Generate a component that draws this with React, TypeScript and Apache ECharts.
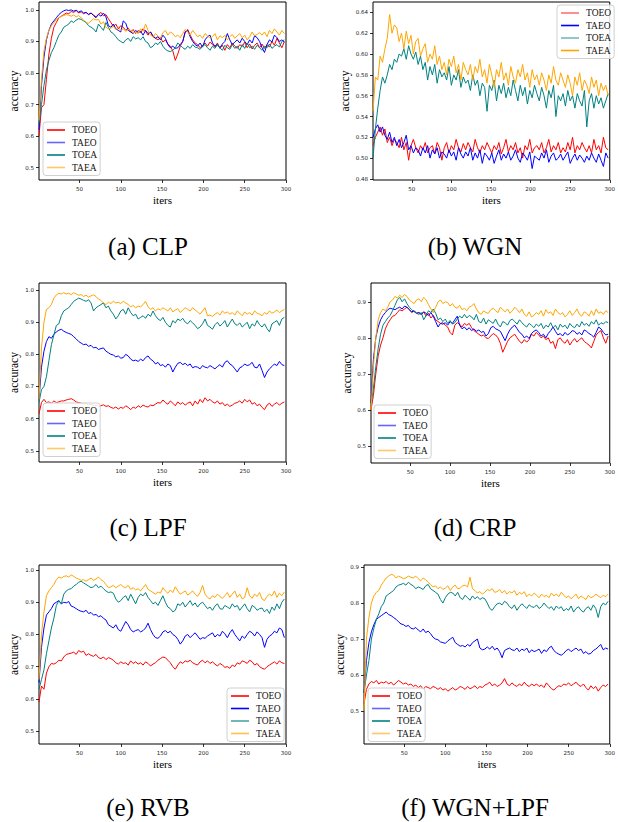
import React, { useEffect, useRef } from "react";
import * as echarts from "echarts";

const SERIES_NAMES = ["TOEO", "TAEO", "TOEA", "TAEA"];
const COLORS = ["#ff0000", "#0000ff", "#008080", "#ffa500"];
// iteration index of each stored sample (every 3rd iteration)
const ITERS = Array.from({ length: 100 }, (_, i) => 1 + 3 * i);
const X_TICKS = [50, 100, 150, 200, 250, 300];
const Y_TICKS_A = [0.5, 0.6, 0.7, 0.8, 0.9, 1.0];
const Y_TICKS_B = [0.48, 0.5, 0.52, 0.54, 0.56, 0.58, 0.6, 0.62, 0.64];
const Y_TICKS_C = [0.5, 0.6, 0.7, 0.8, 0.9, 1.0];
const Y_TICKS_D = [0.5, 0.6, 0.7, 0.8, 0.9];
const Y_TICKS_E = [0.5, 0.6, 0.7, 0.8, 0.9, 1.0];
const Y_TICKS_F = [0.5, 0.6, 0.7, 0.8, 0.9];
const CAPTIONS = ["(a) CLP", "(b) WGN", "(c) LPF", "(d) CRP", "(e) RVB", "(f) WGN+LPF"];

// accuracy x1000
const CLP_TOEO = [
  600, 690, 700, 780, 860, 910, 945, 960, 975, 980,
  985, 990, 988, 995, 992, 998, 990, 994, 988, 992,
  986, 990, 984, 978, 986, 992, 981, 985, 972, 960,
  948, 955, 940, 950, 945, 935, 942, 930, 938, 925,
  935, 928, 940, 932, 920, 930, 915, 910, 905, 912,
  898, 905, 892, 885, 870, 840, 860, 885, 900, 930,
  938, 920, 905, 895, 890, 880, 888, 895, 885, 898,
  890, 882, 895, 878, 888, 872, 890, 880, 895, 885,
  878, 890, 884, 898, 880, 892, 876, 888, 895, 880,
  892, 878, 890, 882, 900, 888, 910, 895, 880, 900,
];
const CLP_TAEO = [
  620, 760, 850, 905, 935, 955, 965, 975, 985, 992,
  997, 1000, 998, 1000, 996, 999, 993, 997, 990, 992,
  985, 990, 982, 975, 986, 980, 990, 978, 950, 945,
  955, 940, 935, 930, 965, 958, 935, 930, 925, 935,
  928, 932, 920, 935, 925, 930, 918, 910, 915, 905,
  920, 910, 890, 880, 885, 878, 880, 890, 900, 930,
  935, 915, 900, 890, 885, 895, 882, 905, 915, 920,
  895, 885, 890, 880, 892, 900, 925, 905, 890, 898,
  905, 895, 910, 900, 890, 905, 895, 918, 912, 900,
  880, 865, 890, 905, 898, 920, 912, 900, 905, 898,
];
const CLP_TOEA = [
  640, 700, 760, 810, 840, 865, 880, 900, 920, 930,
  945, 950, 955, 965, 960, 968, 972, 970, 965, 960,
  950, 945, 940, 930, 955, 945, 935, 960, 945, 930,
  925, 915, 905, 900, 895, 905, 910, 900, 915, 908,
  912, 905, 915, 900, 895, 880, 885, 895, 890, 900,
  885, 875, 870, 868, 872, 880, 895, 888, 880, 875,
  885, 878, 890, 882, 880, 875, 885, 890, 880, 872,
  885, 878, 890, 880, 872, 888, 880, 875, 890, 878,
  885, 872, 890, 878, 895, 880, 885, 875, 888, 880,
  872, 885, 880, 892, 878, 885, 890, 882, 900, 905,
];
const CLP_TAEA = [
  650, 780, 870, 910, 935, 950, 960, 970, 975, 980,
  982, 985, 983, 980, 984, 978, 982, 975, 968, 960,
  958, 965, 972, 968, 970, 955, 962, 945, 940, 942,
  948, 938, 945, 935, 940, 932, 938, 935, 928, 930,
  925, 940, 932, 955, 935, 920, 915, 925, 918, 910,
  928, 935, 920, 930, 925, 915, 920, 912, 925, 938,
  930, 920, 935, 925, 915, 920, 910, 925, 918, 910,
  915, 925, 905, 918, 912, 920, 905, 915, 922, 910,
  918, 925, 912, 920, 905, 915, 930, 918, 922, 928,
  920, 930, 915, 935, 925, 940, 930, 920, 935, 925,
];

const WGN_TOEO = [
  512, 520, 525, 530, 522, 528, 515, 520, 512, 518,
  515, 510, 520, 508, 515, 498, 512, 518, 510, 505,
  512, 508, 515, 505, 510, 512, 504, 515, 510, 498,
  510, 515, 505, 512, 508, 518, 510, 506, 514, 508,
  515, 510, 506, 518, 510, 505, 512, 508, 515, 510,
  505, 512, 508, 515, 504, 510, 518, 506, 512, 508,
  515, 505, 510, 500, 512, 508, 518, 505, 510, 512,
  508, 515, 505, 510, 518, 506, 512, 508, 515, 505,
  510, 506, 515, 508, 520, 505, 512, 508, 515, 510,
  506, 512, 505, 518, 508, 512, 505, 520, 510, 508,
];
const WGN_TAEO = [
  520, 528, 532, 525, 530, 522, 518, 525, 515, 520,
  512, 518, 510, 515, 522, 508, 512, 505, 510, 508,
  502, 510, 505, 512, 500, 508, 504, 510, 500, 506,
  504, 500, 508, 502, 506, 498, 510, 504, 500, 506,
  502, 510, 498, 505, 500, 508, 495, 505, 502, 498,
  505, 495, 502, 508, 498, 504, 500, 506, 498, 502,
  508, 500, 496, 505, 502, 498, 506, 490, 502, 500,
  498, 505, 500, 508, 496, 502, 505, 498, 500, 504,
  498, 502, 506, 495, 500, 504, 498, 503, 500, 496,
  502, 498, 505, 500, 496, 504, 498, 492, 505, 500,
];
const WGN_TOEA = [
  500, 528, 548, 565, 578, 572, 580, 590, 585, 595,
  592, 600, 598, 605, 595, 608, 600, 595, 602, 590,
  598, 585, 592, 575, 588, 580, 590, 572, 585, 578,
  582, 575, 588, 570, 580, 575, 585, 568, 578, 572,
  575, 565, 580, 570, 575, 560, 572, 568, 545, 570,
  565, 575, 555, 570, 562, 572, 558, 568, 560, 575,
  565, 555, 570, 560, 568, 552, 565, 558, 570, 562,
  555, 568, 560, 548, 565, 558, 570, 540, 560, 555,
  562, 550, 565, 555, 560, 548, 562, 555, 550, 565,
  530, 555, 562, 548, 560, 552, 558, 548, 555, 562,
];
const WGN_TAEA = [
  545, 578, 575, 598, 592, 605, 615, 638, 620, 628,
  625, 612, 620, 605, 622, 610, 618, 600, 612, 615,
  598, 605, 610, 592, 600, 595, 608, 590, 598, 585,
  592, 580, 595, 588, 598, 582, 590, 575, 592, 585,
  580, 590, 575, 588, 582, 595, 578, 585, 572, 590,
  580, 568, 585, 578, 592, 575, 582, 570, 588, 578,
  572, 585, 578, 590, 575, 582, 568, 585, 575, 580,
  570, 582, 575, 565, 580, 572, 588, 575, 570, 582,
  575, 568, 580, 572, 560, 578, 570, 582, 565, 575,
  570, 562, 578, 568, 575, 560, 572, 565, 570, 560,
];

const LPF_TOEO = [
  615, 650, 660, 650, 652, 648, 655, 650, 652, 655,
  655, 658, 660, 662, 658, 652, 650, 648, 645, 648,
  642, 645, 640, 642, 638, 640, 643, 638, 640, 635,
  632, 636, 630, 635, 632, 640, 635, 628, 636, 632,
  640, 635, 642, 638, 636, 642, 640, 645, 650, 648,
  658, 650, 645, 655, 648, 640, 652, 645, 650, 642,
  648, 652, 640, 655, 645, 660, 650, 665, 655, 660,
  652, 648, 655, 645, 650, 640, 645, 638, 642, 648,
  650, 655, 648, 660, 652, 658, 645, 650, 640, 645,
  635, 628, 642, 648, 638, 645, 650, 642, 648, 652,
];
const LPF_TAEO = [
  660, 760, 810, 840, 855, 850, 862, 870, 875, 878,
  872, 868, 865, 862, 855, 848, 840, 835, 830, 832,
  825, 828, 820, 822, 815, 818, 820, 810, 805, 800,
  798, 792, 795, 788, 790, 800, 795, 785, 780, 782,
  778, 785, 780, 790, 795, 785, 780, 770, 775, 765,
  768, 760, 770, 765, 745, 760, 772, 775, 768, 772,
  765, 770, 758, 762, 760, 755, 765, 760, 758, 765,
  760, 755, 762, 768, 760, 775, 780, 770, 765, 755,
  745, 758, 762, 770, 765, 768, 775, 760, 758, 770,
  750, 728, 745, 755, 762, 770, 765, 778, 768, 765,
];
const LPF_TOEA = [
  650, 690, 700, 730, 780, 830, 860, 890, 895, 920,
  935, 940, 945, 955, 965, 970, 975, 972, 968, 965,
  970, 960, 935, 945, 950, 955, 960, 945, 950, 935,
  925, 910, 920, 935, 940, 925, 945, 930, 920, 925,
  910, 915, 920, 912, 925, 918, 935, 920, 910, 905,
  915, 900, 890, 885, 905, 898, 910, 905, 912, 900,
  895, 905, 898, 890, 880, 885, 895, 910, 890, 885,
  878, 892, 900, 888, 895, 905, 885, 898, 910, 895,
  890, 898, 885, 892, 900, 880, 895, 888, 905, 892,
  885, 895, 880, 870, 895, 900, 905, 890, 910, 915,
];
const LPF_TAEA = [
  660, 820, 900, 940, 945, 955, 975, 985, 990, 988,
  992, 988, 990, 986, 992, 988, 984, 986, 980, 984,
  978, 982, 985, 980, 972, 968, 960, 955, 962, 958,
  965, 960, 962, 958, 965, 960, 955, 948, 952, 945,
  950, 948, 955, 965, 948, 940, 945, 935, 942, 938,
  945, 940, 935, 945, 932, 938, 942, 930, 938, 945,
  940, 935, 945, 938, 932, 925, 935, 945, 920, 922,
  918, 925, 930, 922, 935, 928, 932, 925, 930, 922,
  935, 928, 920, 932, 925, 930, 922, 935, 928, 925,
  920, 930, 925, 935, 928, 932, 938, 930, 935, 940,
];

const CRP_TOEO = [
  600, 640, 700, 750, 780, 800, 825, 840, 850, 860,
  862, 870, 878, 875, 880, 885, 878, 870, 875, 868,
  870, 865, 872, 860, 868, 855, 862, 850, 845, 840,
  842, 835, 830, 815, 808, 835, 842, 838, 830, 840,
  835, 840, 828, 820, 815, 810, 805, 808, 800, 798,
  805, 812, 808, 800, 785, 760, 775, 790, 800, 805,
  810, 800, 790, 785, 795, 788, 795, 810, 805, 815,
  808, 800, 805, 795, 800, 785, 790, 770, 795, 800,
  790, 785, 795, 780, 790, 798, 788, 795, 800, 790,
  785, 780, 772, 790, 808, 815, 820, 800, 785, 805,
];
const CRP_TAEO = [
  620, 740, 800, 830, 850, 862, 870, 878, 882, 880,
  878, 882, 885, 880, 888, 885, 878, 872, 875, 868,
  870, 865, 872, 868, 862, 870, 860, 845, 830, 840,
  838, 842, 835, 845, 840, 850, 860, 835, 825, 830,
  822, 828, 820, 825, 818, 822, 815, 818, 805, 812,
  828, 832, 825, 822, 818, 805, 792, 810, 822, 830,
  835, 825, 815, 810, 800, 805, 798, 812, 818, 822,
  815, 805, 810, 800, 812, 820, 830, 818, 808, 812,
  805, 815, 808, 812, 820, 818, 810, 815, 808, 822,
  818, 812, 808, 802, 815, 830, 825, 815, 808, 810,
];
const CRP_TOEA = [
  610, 660, 720, 770, 810, 835, 845, 855, 862, 875,
  890, 905, 912, 900, 908, 895, 885, 878, 872, 868,
  865, 870, 850, 862, 875, 870, 880, 868, 850, 855,
  845, 852, 840, 848, 838, 842, 852, 860, 855, 865,
  855, 862, 858, 850, 865, 845, 842, 855, 838, 850,
  845, 840, 852, 838, 830, 845, 842, 835, 848, 852,
  845, 838, 850, 842, 835, 830, 840, 835, 828, 838,
  832, 840, 825, 835, 830, 842, 828, 835, 822, 838,
  830, 835, 825, 840, 832, 828, 838, 830, 845, 835,
  840, 832, 845, 838, 850, 835, 842, 838, 845, 842,
];
const CRP_TAEA = [
  600, 720, 800, 850, 870, 880, 875, 885, 900, 905,
  915, 910, 918, 912, 920, 915, 905, 900, 895, 905,
  908, 900, 912, 905, 892, 880, 870, 885, 900, 905,
  895, 900, 898, 888, 895, 885, 882, 890, 878, 882,
  875, 885, 888, 895, 880, 870, 865, 875, 870, 868,
  878, 882, 875, 870, 885, 878, 872, 880, 868, 875,
  885, 878, 870, 880, 865, 860, 872, 858, 862, 870,
  865, 875, 860, 878, 868, 872, 862, 880, 870, 865,
  870, 858, 865, 875, 862, 870, 880, 865, 860, 872,
  868, 860, 875, 862, 880, 868, 872, 865, 875, 870,
];

const RVB_TOEO = [
  590, 640, 630, 680, 700, 710, 708, 712, 720, 718,
  730, 738, 740, 742, 745, 738, 750, 745, 748, 735,
  740, 735, 732, 738, 728, 725, 730, 722, 728, 725,
  720, 712, 708, 715, 710, 712, 705, 718, 710, 715,
  708, 712, 705, 715, 710, 702, 708, 712, 720, 725,
  730, 728, 720, 712, 700, 692, 705, 715, 710, 718,
  715, 720, 712, 708, 705, 715, 720, 712, 718, 710,
  715, 708, 702, 710, 705, 698, 700, 695, 705, 700,
  712, 708, 718, 715, 710, 720, 715, 705, 710, 700,
  695, 692, 700, 705, 710, 715, 708, 718, 712, 710,
];
const RVB_TAEO = [
  650, 760, 820, 860, 870, 880, 895, 900, 905, 895,
  900, 898, 902, 888, 885, 880, 875, 872, 870, 875,
  865, 868, 860, 862, 855, 858, 850, 845, 830, 825,
  820, 830, 815, 810, 825, 840, 830, 815, 808, 812,
  815, 808, 812, 820, 835, 815, 800, 790, 788, 795,
  808, 812, 805, 810, 800, 795, 785, 770, 780, 795,
  800, 790, 798, 805, 795, 785, 790, 788, 795, 800,
  805, 792, 800, 795, 810, 802, 790, 805, 815, 800,
  790, 780, 795, 788, 800, 810, 805, 795, 808, 800,
  790, 760, 785, 795, 800, 810, 805, 820, 815, 790,
];
const RVB_TOEA = [
  630, 660, 690, 740, 780, 820, 850, 890, 905, 895,
  925, 935, 940, 942, 950, 955, 962, 965, 960, 955,
  950, 945, 948, 955, 945, 950, 942, 935, 930, 932,
  928, 910, 900, 905, 915, 920, 905, 925, 910, 895,
  915, 925, 920, 930, 915, 905, 895, 900, 890, 905,
  920, 900, 885, 880, 870, 875, 895, 890, 900, 885,
  895, 905, 890, 898, 885, 895, 900, 890, 880, 885,
  875, 888, 895, 880, 878, 890, 885, 880, 895, 885,
  890, 875, 885, 895, 880, 870, 890, 885, 875, 880,
  882, 870, 878, 865, 885, 875, 895, 880, 900, 910,
];
const RVB_TAEA = [
  660, 800, 870, 920, 935, 945, 955, 970, 978, 975,
  980, 982, 978, 985, 980, 975, 972, 968, 970, 965,
  970, 975, 968, 972, 978, 970, 965, 955, 945, 948,
  952, 945, 950, 955, 948, 945, 952, 940, 945, 938,
  942, 935, 945, 955, 940, 935, 930, 925, 932, 928,
  945, 935, 928, 938, 930, 948, 935, 925, 930, 935,
  922, 928, 935, 925, 918, 930, 952, 925, 915, 910,
  920, 915, 925, 918, 912, 920, 930, 915, 925, 935,
  915, 925, 910, 915, 945, 920, 912, 925, 918, 930,
  910, 905, 918, 925, 920, 935, 915, 928, 920, 932,
];

const WL_TOEO = [
  520, 560, 575, 582, 578, 585, 575, 580, 578, 582,
  575, 580, 572, 578, 585, 580, 575, 578, 572, 575,
  568, 572, 565, 570, 560, 568, 565, 562, 568, 565,
  560, 565, 558, 562, 555, 560, 565, 558, 562, 568,
  565, 560, 568, 562, 565, 570, 562, 568, 565, 572,
  575, 580, 570, 575, 568, 572, 578, 590, 575, 570,
  578, 572, 568, 575, 570, 580, 572, 568, 575, 570,
  575, 568, 572, 565, 578, 570, 562, 558, 565, 570,
  568, 575, 572, 578, 570, 575, 580, 572, 568, 575,
  565, 558, 570, 562, 568, 555, 565, 572, 568, 575,
];
const WL_TAEO = [
  550, 640, 690, 720, 740, 755, 760, 765, 770, 775,
  768, 765, 760, 755, 748, 742, 740, 735, 738, 730,
  728, 732, 725, 720, 728, 718, 722, 715, 705, 700,
  698, 692, 690, 688, 695, 700, 705, 690, 685, 680,
  682, 678, 685, 680, 690, 695, 700, 675, 670, 672,
  678, 672, 680, 670, 675, 665, 648, 668, 672, 675,
  670, 668, 675, 665, 672, 668, 675, 662, 670, 665,
  668, 672, 660, 670, 665, 675, 680, 668, 662, 658,
  655, 660, 668, 672, 665, 670, 675, 668, 672, 660,
  665, 658, 660, 668, 672, 678, 685, 670, 675, 672,
];
const WL_TOEA = [
  550, 600, 640, 700, 730, 755, 770, 790, 800, 820,
  825, 830, 835, 845, 850, 852, 855, 850, 858, 852,
  848, 840, 845, 842, 838, 848, 852, 840, 835, 830,
  825, 810, 800, 815, 825, 830, 828, 820, 830, 815,
  810, 822, 815, 808, 820, 812, 818, 810, 815, 812,
  800, 785, 780, 790, 798, 800, 795, 805, 800, 790,
  785, 795, 780, 790, 798, 792, 785, 795, 790, 788,
  795, 785, 790, 800, 792, 785, 790, 780, 792, 785,
  790, 778, 785, 780, 792, 775, 785, 790, 780, 775,
  785, 790, 780, 795, 785, 760, 790, 800, 795, 805,
];
const WL_TAEA = [
  500, 700, 760, 800, 820, 830, 835, 850, 860, 870,
  875, 880, 878, 870, 875, 872, 868, 870, 875, 872,
  870, 875, 868, 862, 870, 865, 858, 852, 845, 848,
  840, 845, 838, 842, 848, 835, 845, 850, 840, 842,
  848, 850, 845, 872, 840, 835, 828, 832, 825, 830,
  838, 835, 840, 830, 832, 838, 828, 835, 825, 832,
  828, 835, 822, 830, 825, 832, 818, 825, 820, 828,
  822, 815, 825, 818, 822, 815, 828, 820, 825, 818,
  830, 822, 815, 820, 812, 818, 825, 812, 820, 815,
  810, 822, 815, 818, 825, 820, 815, 822, 818, 825,
];

const PANEL_DATA = [
  [CLP_TOEO, CLP_TAEO, CLP_TOEA, CLP_TAEA],
  [WGN_TOEO, WGN_TAEO, WGN_TOEA, WGN_TAEA],
  [LPF_TOEO, LPF_TAEO, LPF_TOEA, LPF_TAEA],
  [CRP_TOEO, CRP_TAEO, CRP_TOEA, CRP_TAEA],
  [RVB_TOEO, RVB_TAEO, RVB_TOEA, RVB_TAEA],
  [WL_TOEO, WL_TAEO, WL_TOEA, WL_TAEA],
];
const PANEL_Y_TICKS = [Y_TICKS_A, Y_TICKS_B, Y_TICKS_C, Y_TICKS_D, Y_TICKS_E, Y_TICKS_F];

// layout (positions / styles)
const LAYOUT = [
  { left: 39, top: 2, width: 247, height: 178, yMin: 0.461, yMax: 1.025, dec: 1, nameGap: 19, lg: { left: 43, top: 122 }, cap: { x: 148, y: 246 }, lgOp: [1, 0.6, 1, 0.6] },
  { left: 373, top: 2, width: 244, height: 178, yMin: 0.479, yMax: 0.65, dec: 2, nameGap: 22, lg: { left: 557, top: 5 }, cap: { x: 475, y: 246 }, lgOp: [0.55, 1, 0.55, 1] },
  { left: 39, top: 283, width: 247, height: 179, yMin: 0.465, yMax: 1.022, dec: 1, nameGap: 19, lg: { left: 43, top: 403 }, cap: { x: 148, y: 527 }, lgOp: [1, 0.6, 1, 0.6] },
  { left: 371, top: 283, width: 246, height: 180, yMin: 0.453, yMax: 0.952, dec: 1, nameGap: 18, lg: { left: 374, top: 405 }, cap: { x: 475, y: 527 }, lgOp: [1, 0.6, 1, 0.6] },
  { left: 39, top: 565, width: 247, height: 179, yMin: 0.46, yMax: 1.0155, dec: 1, nameGap: 19, lg: { left: 227, top: 688 }, cap: { x: 148, y: 807 }, lgOp: [1, 1, 0.7, 0.7] },
  { left: 364, top: 565, width: 246, height: 179, yMin: 0.408, yMax: 0.906, dec: 1, nameGap: 18, lg: { left: 368, top: 688 }, cap: { x: 475, y: 807 }, lgOp: [1, 0.6, 1, 0.6] },
];

const SERIF = "Liberation Serif";
const SANS = "DejaVu Sans";

function buildOption() {
  const grid = LAYOUT.map((l) => ({
    left: l.left,
    top: l.top,
    width: l.width,
    height: l.height,
    show: true,
    borderColor: "#000",
    borderWidth: 1,
    backgroundColor: "transparent",
  }));
  const xAxis = LAYOUT.map((l, i) => ({
    type: "value",
    gridIndex: i,
    min: 1,
    max: 300,
    name: "iters",
    nameLocation: "middle",
    nameGap: 14,
    nameTextStyle: { fontFamily: SERIF, fontSize: 11, color: "#000" },
    axisLine: { show: false },
    axisTick: { show: true, length: 3, lineStyle: { color: "#000", width: 0.8 }, customValues: X_TICKS },
    axisLabel: { show: true, customValues: X_TICKS, fontSize: 5.5, fontFamily: SANS, color: "#222", margin: 6, formatter: (v: number) => String(v) },
    splitLine: { show: false },
  }));
  const yAxis = LAYOUT.map((l, i) => ({
    type: "value",
    gridIndex: i,
    min: l.yMin,
    max: l.yMax,
    name: "accuracy",
    nameLocation: "middle",
    nameGap: l.nameGap,
    nameTextStyle: { fontFamily: SERIF, fontSize: 11.5, color: "#000" },
    axisLine: { show: false },
    axisTick: { show: true, length: 3, lineStyle: { color: "#000", width: 0.8 }, customValues: PANEL_Y_TICKS[i] },
    axisLabel: { show: true, customValues: PANEL_Y_TICKS[i], fontSize: 5.5, fontFamily: SANS, color: "#222", margin: 5, formatter: (v: number) => v.toFixed(l.dec) },
    splitLine: { show: false },
  }));
  const series: any[] = [];
  PANEL_DATA.forEach((group, i) => {
    group.forEach((vals, j) => {
      series.push({
        type: "line",
        name: SERIES_NAMES[j],
        xAxisIndex: i,
        yAxisIndex: i,
        data: vals.map((v, k) => [ITERS[k], v / 1000]),
        showSymbol: false,
        symbol: "none",
        silent: true,
        z: 2 + j,
        lineStyle: { width: 1, color: COLORS[j] },
        itemStyle: { color: COLORS[j] },
      });
    });
  });
  const legend = LAYOUT.map((l) => ({
    orient: "vertical",
    left: l.lg.left,
    top: l.lg.top,
    padding: [2, 3, 2, 4],
    itemGap: 0.5,
    itemWidth: 18,
    itemHeight: 1.6,
    icon: "rect",
    selectedMode: false,
    z: 20,
    borderColor: "#d0d0d0",
    borderWidth: 1,
    borderRadius: 3,
    backgroundColor: "rgba(255,255,255,0.85)",
    itemStyle: { borderWidth: 0 },
    textStyle: { fontFamily: SERIF, fontSize: 9.5, color: "#111", lineHeight: 12, padding: [0, 0, 0, 2] },
    data: SERIES_NAMES.map((n, j) => ({ name: n, itemStyle: { opacity: l.lgOp[j], borderWidth: 0 } })),
  }));
  const graphic = LAYOUT.map((l, i) => ({
    type: "text",
    x: l.cap.x,
    y: l.cap.y,
    style: {
      text: CAPTIONS[i],
      fontSize: 25,
      fontFamily: SERIF,
      fill: "#000",
      align: "center",
      verticalAlign: "middle",
      textAlign: "center",
      textVerticalAlign: "middle",
    },
  }));
  return { animation: false, backgroundColor: "#fff", grid, xAxis, yAxis, series, legend, graphic };
}

export default function App() {
  const ref = useRef<HTMLDivElement>(null);
  useEffect(() => {
    document.body.style.margin = "0";
    if (!ref.current) return;
    const chart = echarts.init(ref.current, undefined, { renderer: "svg" });
    chart.setOption(buildOption() as any);
    return () => chart.dispose();
  }, []);
  return <div ref={ref} style={{ width: 618, height: 822 }} />;
}
